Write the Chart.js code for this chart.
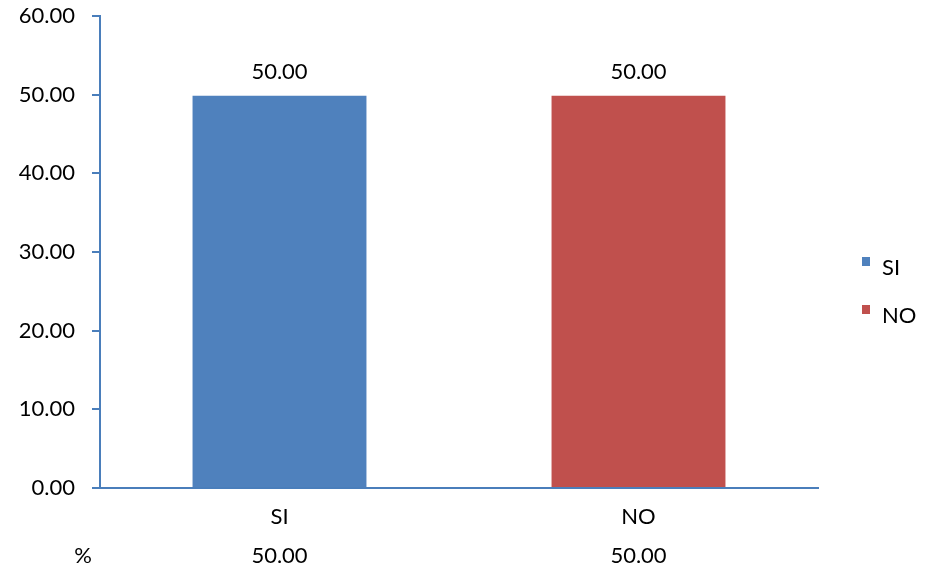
<!DOCTYPE html>
<html>
<head>
<meta charset="utf-8">
<script src="https://cdn.jsdelivr.net/npm/chart.js@4/dist/chart.umd.min.js"></script>
<style>
  html, body { margin: 0; padding: 0; background: #fff; }
  #wrap { width: 927px; height: 574px; position: relative; }
</style>
</head>
<body>
<div id="wrap"><canvas id="chart"></canvas></div>
<script>
// 数据
const categories = ['SI', 'NO'];
const seriesValues = [50.0, 50.0];
const seriesColors = ['#4F81BD', '#C0504D'];
const tableLabel = '%';
const tableValues = [50.0, 50.0];
const yTicks = [0, 10, 20, 30, 40, 50, 60];

const FONT = 'Lato, "Open Sans", sans-serif';
const FSIZE = 22;
const AXIS = '#4A7EBB';

// 柱顶数值、底部数据表、右侧图例
const extras = {
  id: 'extras',
  afterDatasetsDraw(chart) {
    const ctx = chart.ctx;
    ctx.save();
    ctx.fillStyle = '#000';
    ctx.font = FSIZE + 'px ' + FONT;
    ctx.textAlign = 'center';
    ctx.textBaseline = 'middle';
    chart.data.datasets.forEach((ds, i) => {
      const bar = chart.getDatasetMeta(i).data[i];
      if (bar) ctx.fillText(seriesValues[i].toFixed(2), bar.x, bar.y - 23);
    });
    const xs = chart.scales.x;
    const rowY = 556;
    ctx.fillText(tableLabel, 83, rowY);
    tableValues.forEach((v, i) => {
      ctx.fillText(v.toFixed(2), xs.getPixelForValue(i), rowY);
    });
    // 图例
    ctx.textAlign = 'left';
    categories.forEach((c, i) => {
      const ty = 268 + i * 48;
      ctx.fillStyle = seriesColors[i];
      ctx.fillRect(862, ty - 11, 8, 9);
      ctx.fillStyle = '#000';
      ctx.fillText(c, 882, ty);
    });
    ctx.restore();
  }
};

new Chart(document.getElementById('chart'), {
  type: 'bar',
  data: {
    labels: categories,
    datasets: categories.map((c, i) => ({
      label: c,
      data: categories.map((_, j) => j === i ? seriesValues[i] : null),
      backgroundColor: seriesColors[i],
      borderColor: 'rgba(255,255,255,0.45)',
      borderWidth: 1,
      barPercentage: 0.98,
      categoryPercentage: 0.5
    }))
  },
  options: {
    responsive: true,
    maintainAspectRatio: false,
    animation: false,
    layout: { padding: { top: 16, bottom: 0, left: 0, right: 109 } },
    plugins: {
      legend: { display: false },
      tooltip: { enabled: false }
    },
    datasets: { bar: { grouped: false } },
    scales: {
      x: {
        afterFit: s => { s.height = 86; s.paddingLeft = 0; s.paddingRight = 0; },
        grid: { display: false, drawTicks: false, tickLength: 0 },
        border: { display: true, color: AXIS, width: 2 },
        ticks: { color: '#000', font: { family: FONT, size: FSIZE }, padding: 16 }
      },
      y: {
        min: 0, max: 60,
        afterFit: s => { s.width = 100; s.paddingTop = 0; s.paddingBottom = 0; },
        afterBuildTicks: axis => { axis.ticks = yTicks.map(v => ({ value: v })); },
        grid: { drawOnChartArea: false, drawTicks: true, tickLength: 8, color: AXIS, lineWidth: 2 },
        border: { display: true, color: AXIS, width: 2 },
        ticks: {
          color: '#000', font: { family: FONT, size: FSIZE }, padding: 17,
          callback: v => Number(v).toFixed(2)
        }
      }
    }
  },
  plugins: [extras]
});
</script>
</body>
</html>
